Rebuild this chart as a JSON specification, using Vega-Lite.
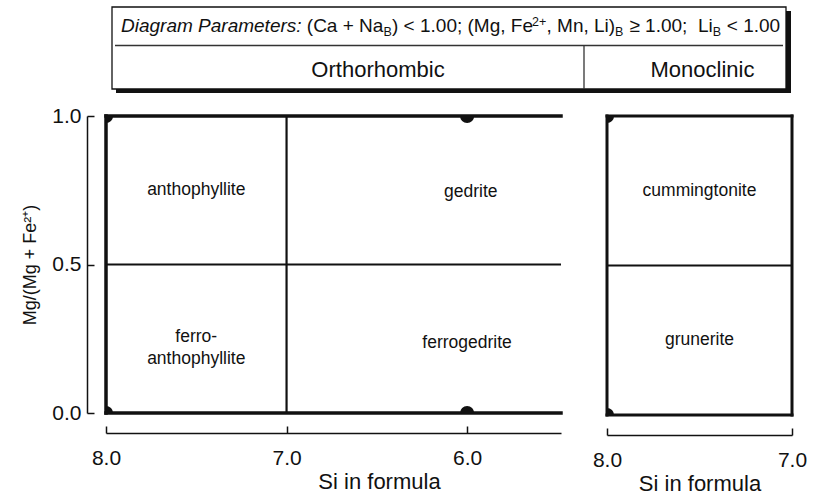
{
  "$schema": "https://vega.github.io/schema/vega-lite/v6.json",
  "background": "white",
  "padding": {"left": 21, "top": 6, "right": 5, "bottom": 5},
  "autosize": {"type": "pad"},
  "bounds": "flush",
  "spacing": 23,
  "config": {
    "view": {"stroke": null},
    "font": "Liberation Sans",
    "axis": {
      "grid": false,
      "labelFont": "Liberation Sans",
      "titleFont": "Liberation Sans",
      "labelColor": "#111",
      "titleColor": "#111",
      "domainColor": "#111",
      "tickColor": "#111",
      "titleFontWeight": "normal",
      "labelFontSize": 21,
      "titleFontSize": 22,
      "domainWidth": 1.5,
      "tickWidth": 1.5,
      "tickSize": -7,
      "labelFlush": false
    }
  },
  "datasets": {
    "hbox": [{"hx": 6, "hx2": 680, "hy": 0, "hy2": 82}],
    "hshadow": [{"hx": 10, "hx2": 685, "hy": 4, "hy2": 86}],
    "hlines": [
      {"hx": 9, "hx2": 677, "hy": 38.5, "hy2": 38.5},
      {"hx": 478, "hx2": 478, "hy": 38.5, "hy2": 82}
    ],
    "hital": [{"t": "Diagram Parameters:", "hx": 15, "hy": 24.5}],
    "hmain": [
      {"t": "(Ca + Na", "hx": 200.8, "hy": 24.5},
      {"t": ") < 1.00; (Mg, Fe", "hx": 286.0, "hy": 24.5},
      {"t": ", Mn, Li)", "hx": 440.5, "hy": 24.5},
      {"t": "≥ 1.00;", "hx": 523.4, "hy": 24.5},
      {"t": "Li", "hx": 592.0, "hy": 24.5},
      {"t": "< 1.00", "hx": 620.8, "hy": 24.5}
    ],
    "hsmall": [
      {"t": "B", "hx": 277.4, "hy": 28.5},
      {"t": "2+", "hx": 426.0, "hy": 19},
      {"t": "B", "hx": 509.1, "hy": 28.5},
      {"t": "B", "hx": 606.8, "hy": 28.5}
    ],
    "hrow2": [
      {"t": "Orthorhombic", "hx": 272, "hy": 70},
      {"t": "Monoclinic", "hx": 596.5, "hy": 70}
    ],
    "leftThick": [
      {"si": 8, "si2": 5.48, "mg": 1, "mg2": 1},
      {"si": 8, "si2": 8, "mg": 0, "mg2": 1},
      {"si": 8, "si2": 5.48, "mg": 0, "mg2": 0}
    ],
    "leftThin": [
      {"si": 7, "si2": 7, "mg": 0, "mg2": 1},
      {"si": 8, "si2": 5.48, "mg": 0.5, "mg2": 0.5}
    ],
    "leftDots": [
      {"si": 8, "mg": 1},
      {"si": 6, "mg": 1},
      {"si": 8, "mg": 0},
      {"si": 6, "mg": 0}
    ],
    "leftNames": [
      {"si": 7.5, "mg": 0.75, "name": "anthophyllite"},
      {"si": 5.98, "mg": 0.745, "name": "gedrite"},
      {"si": 7.5, "mg": 0.255, "name": "ferro-\nanthophyllite"},
      {"si": 6.0, "mg": 0.235, "name": "ferrogedrite"}
    ],
    "rightThick": [
      {"si": 8, "si2": 7, "mg": 1, "mg2": 1},
      {"si": 8, "si2": 8, "mg": 0, "mg2": 1},
      {"si": 8, "si2": 7, "mg": 0, "mg2": 0},
      {"si": 7, "si2": 7, "mg": 0, "mg2": 1}
    ],
    "rightThin": [
      {"si": 8, "si2": 7, "mg": 0.5, "mg2": 0.5}
    ],
    "rightDots": [
      {"si": 8, "mg": 1},
      {"si": 8, "mg": 0}
    ],
    "rightNames": [
      {"si": 7.5, "mg": 0.75, "name": "cummingtonite"},
      {"si": 7.5, "mg": 0.25, "name": "grunerite"}
    ]
  },
  "vconcat": [
    {
      "width": 686,
      "height": 86,
      "layer": [
        {
          "data": {"name": "hshadow"},
          "mark": {"type": "rect", "color": "#111"},
          "encoding": {
            "x": {"field": "hx", "type": "quantitative", "scale": {"domain": [0, 686], "nice": false, "zero": false}, "axis": null},
            "x2": {"field": "hx2"},
            "y": {"field": "hy", "type": "quantitative", "scale": {"domain": [0, 86], "nice": false, "zero": false, "reverse": true}, "axis": null},
            "y2": {"field": "hy2"}
          }
        },
        {
          "data": {"name": "hbox"},
          "mark": {"type": "rect", "fill": "white", "stroke": "#111", "strokeWidth": 1.3},
          "encoding": {
            "x": {"field": "hx", "type": "quantitative"},
            "x2": {"field": "hx2"},
            "y": {"field": "hy", "type": "quantitative"},
            "y2": {"field": "hy2"}
          }
        },
        {
          "data": {"name": "hlines"},
          "mark": {"type": "rule", "color": "#333", "strokeWidth": 1.3},
          "encoding": {
            "x": {"field": "hx", "type": "quantitative"},
            "x2": {"field": "hx2"},
            "y": {"field": "hy", "type": "quantitative"},
            "y2": {"field": "hy2"}
          }
        },
        {
          "data": {"name": "hital"},
          "mark": {"type": "text", "font": "Liberation Sans", "fontStyle": "italic", "fontSize": 19, "align": "left", "baseline": "alphabetic", "color": "#111"},
          "encoding": {
            "x": {"field": "hx", "type": "quantitative"},
            "y": {"field": "hy", "type": "quantitative"},
            "text": {"field": "t"}
          }
        },
        {
          "data": {"name": "hmain"},
          "mark": {"type": "text", "font": "Liberation Sans", "fontSize": 19, "align": "left", "baseline": "alphabetic", "color": "#111"},
          "encoding": {
            "x": {"field": "hx", "type": "quantitative"},
            "y": {"field": "hy", "type": "quantitative"},
            "text": {"field": "t"}
          }
        },
        {
          "data": {"name": "hsmall"},
          "mark": {"type": "text", "font": "Liberation Sans", "fontSize": 12.5, "align": "left", "baseline": "alphabetic", "color": "#111"},
          "encoding": {
            "x": {"field": "hx", "type": "quantitative"},
            "y": {"field": "hy", "type": "quantitative"},
            "text": {"field": "t"}
          }
        },
        {
          "data": {"name": "hrow2"},
          "mark": {"type": "text", "font": "Liberation Sans", "fontSize": 22, "align": "center", "baseline": "alphabetic", "color": "#111"},
          "encoding": {
            "x": {"field": "hx", "type": "quantitative"},
            "y": {"field": "hy", "type": "quantitative"},
            "text": {"field": "t"}
          }
        }
      ]
    },
    {
      "bounds": "flush",
      "spacing": 46,
      "hconcat": [
        {
          "width": 455,
          "height": 297,
          "layer": [
            {
              "data": {"name": "leftThin"},
              "mark": {"type": "rule", "color": "#111", "strokeWidth": 2.2},
              "encoding": {
                "x": {
                  "field": "si", "type": "quantitative",
                  "scale": {"domain": [5.48, 8], "reverse": true, "nice": false, "zero": false},
                  "axis": {"values": [8, 7, 6], "format": ".1f", "title": "Si in formula", "offset": 20, "labelPadding": 21, "titlePadding": 3, "titleX": 273}
                },
                "x2": {"field": "si2"},
                "y": {
                  "field": "mg", "type": "quantitative",
                  "scale": {"domain": [0, 1], "nice": false, "zero": false},
                  "axis": {"values": [0, 0.5, 1], "format": ".1f", "title": "Mg/(Mg + Fe²⁺)", "titleFontSize": 18, "offset": 19, "labelPadding": 13, "titlePadding": 12}
                },
                "y2": {"field": "mg2"}
              }
            },
            {
              "data": {"name": "leftThick"},
              "mark": {"type": "rule", "color": "#111", "strokeWidth": 3.5, "strokeCap": "square"},
              "encoding": {
                "x": {"field": "si", "type": "quantitative"},
                "x2": {"field": "si2"},
                "y": {"field": "mg", "type": "quantitative"},
                "y2": {"field": "mg2"}
              }
            },
            {
              "data": {"name": "leftDots"},
              "mark": {"type": "point", "shape": "circle", "filled": true, "size": 200, "color": "#111", "opacity": 1, "clip": true},
              "encoding": {
                "x": {"field": "si", "type": "quantitative"},
                "y": {"field": "mg", "type": "quantitative"}
              }
            },
            {
              "data": {"name": "leftNames"},
              "mark": {"type": "text", "font": "Liberation Sans", "fontSize": 17.5, "lineBreak": "\n", "lineHeight": 22, "color": "#111"},
              "encoding": {
                "x": {"field": "si", "type": "quantitative"},
                "y": {"field": "mg", "type": "quantitative"},
                "text": {"field": "name"}
              }
            }
          ]
        },
        {
          "width": 185,
          "height": 299,
          "layer": [
            {
              "data": {"name": "rightThin"},
              "mark": {"type": "rule", "color": "#111", "strokeWidth": 2.2},
              "encoding": {
                "x": {
                  "field": "si", "type": "quantitative",
                  "scale": {"domain": [7, 8], "reverse": true, "nice": false, "zero": false},
                  "axis": {"values": [8, 7], "format": ".1f", "title": "Si in formula", "offset": 20, "labelPadding": 21, "titlePadding": 3}
                },
                "x2": {"field": "si2"},
                "y": {
                  "field": "mg", "type": "quantitative",
                  "scale": {"domain": [0, 1], "nice": false, "zero": false},
                  "axis": null
                },
                "y2": {"field": "mg2"}
              }
            },
            {
              "data": {"name": "rightThick"},
              "mark": {"type": "rule", "color": "#111", "strokeWidth": 3, "strokeCap": "square"},
              "encoding": {
                "x": {"field": "si", "type": "quantitative"},
                "x2": {"field": "si2"},
                "y": {"field": "mg", "type": "quantitative"},
                "y2": {"field": "mg2"}
              }
            },
            {
              "data": {"name": "rightDots"},
              "mark": {"type": "point", "shape": "circle", "filled": true, "size": 200, "color": "#111", "opacity": 1, "clip": true},
              "encoding": {
                "x": {"field": "si", "type": "quantitative"},
                "y": {"field": "mg", "type": "quantitative"}
              }
            },
            {
              "data": {"name": "rightNames"},
              "mark": {"type": "text", "font": "Liberation Sans", "fontSize": 17.5, "color": "#111"},
              "encoding": {
                "x": {"field": "si", "type": "quantitative"},
                "y": {"field": "mg", "type": "quantitative"},
                "text": {"field": "name"}
              }
            }
          ]
        }
      ]
    }
  ]
}
